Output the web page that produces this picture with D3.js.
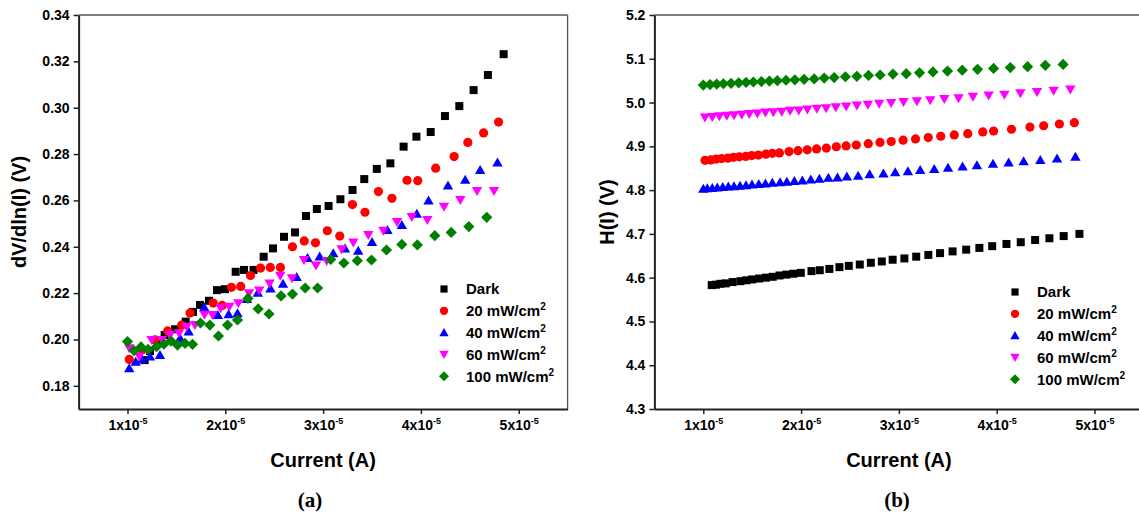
<!DOCTYPE html>
<html>
<head>
<meta charset="utf-8">
<script src="https://cdn.jsdelivr.net/npm/d3@7"></script>
<style>
body { margin: 0; background: #fff; }
svg text { font-family: "Liberation Sans", Arial, sans-serif; font-weight: bold; fill: #000; }
</style>
</head>
<body>
<div id="chart"></div>
<script>
// currents are in units of 1e-5 A: [current, value]
var dvDark = [[1.175,0.1911],[1.23,0.1950],[1.30,0.1998],[1.38,0.2019],[1.486,0.2044],[1.595,0.2077],[1.67,0.2119],[1.741,0.2149],[1.833,0.2167],[1.915,0.2213],[1.997,0.2217],[2.106,0.2292],[2.191,0.2300],[2.289,0.2300],[2.392,0.2357],[2.488,0.2393],[2.600,0.2443],[2.713,0.2462],[2.825,0.2533],[2.936,0.2563],[3.056,0.2576],[3.177,0.2605],[3.301,0.2645],[3.421,0.2692],[3.549,0.2736],[3.688,0.2760],[3.823,0.2832],[3.954,0.2875],[4.100,0.2895],[4.246,0.2964],[4.393,0.3007],[4.539,0.3076],[4.685,0.3141],[4.846,0.3231]];
var dvP20 = [[1.018,0.1914],[1.148,0.1955],[1.281,0.1998],[1.411,0.2037],[1.554,0.2062],[1.639,0.2114],[1.877,0.2157],[1.968,0.2147],[2.063,0.2225],[2.158,0.2229],[2.258,0.2276],[2.360,0.2308],[2.460,0.2311],[2.564,0.2311],[2.687,0.2400],[2.807,0.2425],[2.922,0.2417],[3.043,0.2469],[3.170,0.2446],[3.300,0.2582],[3.428,0.2549],[3.566,0.2638],[3.704,0.2609],[3.858,0.2687],[3.968,0.2685],[4.151,0.2739],[4.340,0.2789],[4.480,0.2850],[4.641,0.2891],[4.794,0.2938]];
var dvP40 = [[1.018,0.1876],[1.084,0.1904],[1.15,0.1915],[1.230,0.1926],[1.332,0.1933],[1.442,0.2001],[1.537,0.2006],[1.625,0.2034],[1.785,0.2139],[1.924,0.2106],[2.034,0.2109],[2.125,0.2113],[2.222,0.2175],[2.333,0.2202],[2.462,0.2220],[2.59,0.2240],[2.730,0.2270],[2.841,0.2352],[2.965,0.2358],[3.104,0.2372],[3.224,0.2393],[3.359,0.2383],[3.500,0.2421],[3.658,0.2472],[3.805,0.2494],[3.958,0.2542],[4.078,0.2600],[4.277,0.2664],[4.453,0.2689],[4.606,0.2731],[4.783,0.2764]];
var dvP60 = [[1.018,0.1962],[1.121,0.1926],[1.247,0.1998],[1.353,0.1998],[1.435,0.2019],[1.527,0.2027],[1.605,0.2055],[1.690,0.2062],[1.787,0.2107],[1.869,0.2106],[1.953,0.2135],[2.041,0.2141],[2.133,0.2156],[2.242,0.2199],[2.347,0.2211],[2.453,0.2242],[2.562,0.2275],[2.682,0.2264],[2.805,0.2343],[2.927,0.2319],[3.037,0.2339],[3.190,0.2389],[3.309,0.2418],[3.462,0.2451],[3.616,0.2469],[3.756,0.2507],[3.907,0.2528],[4.066,0.2516],[4.236,0.2573],[4.403,0.2602],[4.574,0.2641],[4.747,0.2641]];
var dvP100 = [[1.0,0.1991],[1.066,0.1952],[1.138,0.1968],[1.210,0.1957],[1.297,0.1969],[1.373,0.1980],[1.445,0.1993],[1.511,0.1976],[1.588,0.1983],[1.665,0.1979],[1.746,0.2071],[1.842,0.2062],[1.930,0.2015],[2.023,0.2062],[2.125,0.2084],[2.232,0.2177],[2.336,0.2132],[2.447,0.2110],[2.570,0.2188],[2.687,0.2196],[2.817,0.2222],[2.944,0.2222],[3.078,0.2345],[3.212,0.2330],[3.350,0.2340],[3.495,0.2343],[3.648,0.2386],[3.805,0.2410],[3.964,0.2408],[4.142,0.2448],[4.310,0.2462],[4.490,0.2487],[4.673,0.2527]];

var hDark = [[1.086,4.583],[1.13,4.584],[1.175,4.586],[1.23,4.587],[1.30,4.590],[1.38,4.592],[1.44,4.594],[1.50,4.596],[1.57,4.598],[1.64,4.600],[1.71,4.602],[1.78,4.605],[1.85,4.607],[1.92,4.609],[1.997,4.611],[2.106,4.615],[2.191,4.617],[2.289,4.620],[2.392,4.624],[2.488,4.627],[2.600,4.630],[2.713,4.634],[2.825,4.637],[2.936,4.641],[3.056,4.644],[3.177,4.648],[3.301,4.652],[3.421,4.656],[3.549,4.660],[3.688,4.664],[3.823,4.668],[3.954,4.672],[4.100,4.677],[4.246,4.681],[4.393,4.686],[4.539,4.690],[4.685,4.695],[4.846,4.700]];
var hP20 = [[1.018,4.868],[1.076,4.869],[1.130,4.871],[1.188,4.872],[1.250,4.873],[1.307,4.875],[1.368,4.876],[1.434,4.877],[1.495,4.879],[1.563,4.880],[1.639,4.882],[1.706,4.884],[1.778,4.885],[1.877,4.888],[1.968,4.890],[2.063,4.892],[2.158,4.894],[2.258,4.896],[2.360,4.899],[2.460,4.901],[2.564,4.903],[2.687,4.906],[2.807,4.909],[2.922,4.911],[3.043,4.914],[3.170,4.917],[3.300,4.920],[3.428,4.923],[3.566,4.926],[3.704,4.929],[3.858,4.933],[3.968,4.935],[4.151,4.939],[4.340,4.944],[4.480,4.947],[4.641,4.951],[4.794,4.954]];
var hP40 = [[1.0,4.803],[1.041,4.804],[1.092,4.805],[1.143,4.806],[1.199,4.807],[1.256,4.808],[1.314,4.809],[1.376,4.810],[1.437,4.811],[1.498,4.813],[1.567,4.814],[1.635,4.815],[1.706,4.817],[1.785,4.818],[1.854,4.819],[1.931,4.821],[2.013,4.822],[2.099,4.824],[2.187,4.826],[2.279,4.828],[2.372,4.829],[2.468,4.831],[2.583,4.833],[2.701,4.836],[2.842,4.838],[2.962,4.841],[3.092,4.843],[3.218,4.846],[3.361,4.848],[3.502,4.851],[3.651,4.854],[3.798,4.857],[3.962,4.860],[4.122,4.863],[4.275,4.866],[4.446,4.869],[4.617,4.872],[4.805,4.876]];
var hP60 = [[1.017,4.966],[1.092,4.967],[1.164,4.969],[1.240,4.970],[1.314,4.971],[1.393,4.972],[1.471,4.974],[1.553,4.975],[1.635,4.977],[1.716,4.978],[1.802,4.979],[1.887,4.981],[1.976,4.982],[2.064,4.984],[2.161,4.986],[2.256,4.987],[2.355,4.989],[2.461,4.991],[2.570,4.993],[2.683,4.995],[2.798,4.997],[2.921,4.999],[3.047,5.001],[3.184,5.003],[3.320,5.005],[3.464,5.008],[3.610,5.010],[3.757,5.013],[3.917,5.016],[4.078,5.018],[4.242,5.021],[4.412,5.024],[4.582,5.027],[4.753,5.030]];
var hP100 = [[1.0,5.040],[1.069,5.041],[1.137,5.042],[1.205,5.043],[1.284,5.044],[1.362,5.045],[1.437,5.046],[1.512,5.047],[1.594,5.048],[1.676,5.049],[1.757,5.050],[1.846,5.051],[1.936,5.052],[2.031,5.053],[2.134,5.054],[2.236,5.056],[2.338,5.057],[2.453,5.059],[2.570,5.060],[2.689,5.062],[2.808,5.063],[2.939,5.065],[3.075,5.066],[3.211,5.068],[3.348,5.070],[3.497,5.072],[3.648,5.074],[3.804,5.076],[3.968,5.078],[4.139,5.080],[4.316,5.082],[4.497,5.085],[4.679,5.087]];

var seriesNames = ["Dark", "20 mW/cm", "40 mW/cm", "60 mW/cm", "100 mW/cm"];
var seriesColors = ["#000000", "#ff0000", "#0000ff", "#ff00ff", "#007f00"];
var seriesShapes = ["square", "circle", "up", "down", "diamond"];
var currentTicks = [1, 2, 3, 4, 5];
var dvTicks = [0.18, 0.20, 0.22, 0.24, 0.26, 0.28, 0.30, 0.32, 0.34];
var hTicks = [4.3, 4.4, 4.5, 4.6, 4.7, 4.8, 4.9, 5.0, 5.1, 5.2];

var svg = d3.select("#chart").append("svg")
    .attr("width", 1139)
    .attr("height", 517);

var shapePaths = {
  square: "M-4,-4H4V4H-4Z",
  circle: "M4.6,0A4.6,4.6 0 1,1 -4.6,0A4.6,4.6 0 1,1 4.6,0Z",
  up: "M0,-5L5.2,4L-5.2,4Z",
  down: "M0,5L5.2,-4L-5.2,-4Z",
  diamond: "M0,-5.6L5.6,0L0,5.6L-5.6,0Z"
};

function drawPanel(cfg) {
  var x = d3.scaleLinear().domain([0.5, 5.5]).range([cfg.left, cfg.left + 489]);
  var y = d3.scaleLinear().domain(cfg.yDomain).range([409, 15]);
  var g = svg.append("g");

  // thin frame on top and right
  g.append("line")
    .attr("x1", x(0.5)).attr("x2", x(5.5))
    .attr("y1", y.range()[1]).attr("y2", y.range()[1])
    .attr("stroke", "#555").attr("stroke-width", 1.3);
  g.append("line")
    .attr("x1", x(5.5)).attr("x2", x(5.5))
    .attr("y1", y.range()[0]).attr("y2", y.range()[1])
    .attr("stroke", "#555").attr("stroke-width", 1.3);

  var xAxis = g.append("g")
      .attr("transform", "translate(0,409)")
      .call(d3.axisBottom(x).tickValues(currentTicks).tickSize(5).tickSizeOuter(0).tickPadding(6));
  xAxis.attr("font-size", 14).attr("font-family", null);
  xAxis.selectAll(".tick text").text(null).each(function(d) {
    var t = d3.select(this);
    t.append("tspan").text(d + "x10");
    t.append("tspan").attr("dy", -6).attr("font-size", 9).text("-5");
  });

  var yAxis = g.append("g")
      .attr("transform", "translate(" + cfg.left + ",0)")
      .call(d3.axisLeft(y).tickValues(cfg.ticks).tickFormat(d3.format(cfg.fmt)).tickSize(5).tickSizeOuter(0).tickPadding(4));
  yAxis.attr("font-size", 14).attr("font-family", null);

  [xAxis, yAxis].forEach(function(a) {
    a.select(".domain").attr("stroke", "#222").attr("stroke-width", 2);
    a.selectAll(".tick line").attr("stroke", "#222").attr("stroke-width", 1.5);
  });

  cfg.data.forEach(function(s, i) {
    g.append("g").selectAll("path")
      .data(s)
      .enter().append("path")
      .attr("d", shapePaths[seriesShapes[i]])
      .attr("fill", seriesColors[i])
      .attr("transform", function(d) { return "translate(" + x(d[0]) + "," + y(d[1]) + ")"; });
  });

  // legend
  var legend = g.append("g").selectAll("g")
      .data(seriesNames)
      .enter().append("g")
      .attr("transform", function(d, i) { return "translate(" + cfg.legendX + "," + (cfg.legendY + i * 21.8) + ")"; });
  legend.append("path")
    .attr("d", function(d, i) { return shapePaths[seriesShapes[i]]; })
    .attr("fill", function(d, i) { return seriesColors[i]; })
    .attr("transform", "scale(0.9)");
  var lt = legend.append("text")
    .attr("x", 22)
    .attr("dy", "0.36em")
    .attr("font-size", 15);
  lt.append("tspan").text(function(d) { return d; });
  lt.filter(function(d, i) { return i > 0; })
    .append("tspan").attr("dy", -6).attr("font-size", 10).text("2");

  g.append("text")
    .attr("x", (x(0.5) + x(5.5)) / 2)
    .attr("y", 467)
    .attr("text-anchor", "middle")
    .attr("font-size", 20)
    .text("Current (A)");

  g.append("text")
    .attr("transform", "translate(" + cfg.titleX + ",212) rotate(-90)")
    .attr("text-anchor", "middle")
    .attr("dy", "0.36em")
    .attr("font-size", 20)
    .text(cfg.yTitle);

  g.append("text")
    .attr("x", cfg.tagX)
    .attr("y", 507)
    .attr("text-anchor", "middle")
    .attr("font-size", 21)
    .style("font-family", "'Liberation Serif', 'Times New Roman', serif")
    .text(cfg.tag);
}

drawPanel({
  left: 78.6, yDomain: [0.17, 0.34], ticks: dvTicks, fmt: ".2f",
  data: [dvDark, dvP20, dvP40, dvP60, dvP100],
  legendX: 444, legendY: 289, titleX: 19, yTitle: "dV/dln(I) (V)",
  tagX: 310, tag: "(a)"
});

drawPanel({
  left: 654.4, yDomain: [4.3, 5.2], ticks: hTicks, fmt: ".1f",
  data: [hDark, hP20, hP40, hP60, hP100],
  legendX: 1015, legendY: 292, titleX: 607, yTitle: "H(I) (V)",
  tagX: 897, tag: "(b)"
});
</script>
</body>
</html>
